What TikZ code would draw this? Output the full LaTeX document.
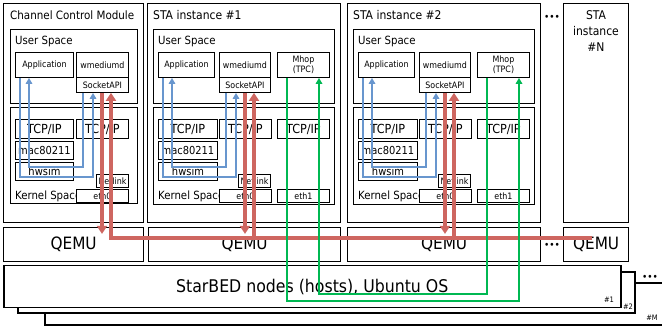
\documentclass[tikz,border=0pt]{standalone}
\usepackage{fontspec}
\setmainfont{DejaVu Sans Condensed}
\usetikzlibrary{arrows.meta, calc}
\definecolor{wirblue}{RGB}{104,150,206}
\definecolor{wirred}{RGB}{206,102,96}
\definecolor{wirgreen}{RGB}{0,184,82}
\tikzset{
  sz/.style 2 args={minimum width=#1, minimum height=#2},
  frame/.style={draw, fill=white, line width=1.3pt, anchor=north west, inner sep=0pt},
  space/.style={draw, fill=white, line width=0.9pt, anchor=north west, inner sep=0pt},
  box/.style={draw, fill=white, line width=0.9pt, anchor=north west, inner sep=0pt,
    font=\fontsize{8.8}{10}\selectfont, align=center},
  bigbox/.style={box, font=\fontsize{12.5}{14}\selectfont},
  midbox/.style={box, font=\fontsize{11}{12}\selectfont},
  qemubox/.style={box, line width=1.3pt, font=\fontsize{17}{19}\selectfont},
  title/.style={anchor=west, inner sep=0pt, font=\fontsize{12}{14}\selectfont},
  lbl/.style={anchor=west, inner sep=0pt, font=\fontsize{11.3}{13}\selectfont},
  tag/.style={inner sep=0pt, font=\fontsize{7.5}{8}\selectfont},
  dots/.style={inner sep=0pt, font=\fontsize{10}{10}\selectfont},
  blueline/.style={draw=wirblue, line width=1.8pt, >={Triangle[length=6pt, width=6.5pt]}},
  redline/.style={draw=wirred, line width=3.2pt, >={Triangle[length=8pt, width=10pt]}},
  greenline/.style={draw=wirgreen, line width=1.8pt, >={Triangle[length=6pt, width=6.5pt]}}
}
\begin{document}
\begin{tikzpicture}[x=1pt, y=-1pt]
  \useasboundingbox (0,0) rectangle (662,328);

  % hosts
  \draw[line width=1.5pt, fill=white] (45,283) rectangle (666,325);
  \draw[line width=1.5pt, fill=white] (18,272) rectangle (635,313);
  \node[frame, line width=1.5pt, sz={617}{42}, font=\fontsize{17.5}{19}\selectfont] (host) at (3,265) {StarBED nodes (hosts), Ubuntu OS};
  \node[tag] at (609,300) {\#1};
  \node[tag] at (628,307) {\#2};
  \node[tag] at (652,318) {\#M};
  \node[dots] at (650,278) {•••};

  % QEMU
  \node[qemubox, sz={140}{34}] (qemu0) at (3,227) {QEMU};
  \node[qemubox, sz={192}{34}] (qemu1) at (148,227) {QEMU};
  \node[qemubox, sz={193}{34}] (qemu2) at (347,227) {QEMU};
  \node[qemubox, sz={65}{34}] (qemuN) at (563,227) {QEMU};
  \node[dots] at (552,246) {•••};

  % channel control module
  \node[frame, sz={140}{219}] (ccm) at (3,3) {};
  \node[title, font=\fontsize{11.5}{14}\selectfont] at (10,15) {Channel Control Module};
  \node[space, sz={127}{74}] (us0) at (10,29) {};
  \node[lbl] at (15,41) {User Space};
  \node[box, sz={58}{25}] (app0) at (15,52) {Application};
  \node[box, sz={52}{25}] (wmd0) at (76,52) {wmediumd};
  \node[box, sz={52}{15}] (sock0) at (76,77) {SocketAPI};
  \node[space, sz={127}{96}] (ks0) at (10,107) {};
  \node[bigbox, sz={58}{19}] (tcpa0) at (15,119) {TCP/IP};
  \node[bigbox, sz={52}{19}] (tcpb0) at (76,119) {TCP/IP};
  \node[midbox, sz={58}{18}] (mac0) at (15,141) {mac80211};
  \node[midbox, sz={58}{18}] (hw0) at (15,162) {hwsim};
  \node[box, sz={32}{13}] (nl0) at (96,174) {Netlink};
  \node[lbl] at (15,196) {Kernel Space};
  \node[box, sz={52}{13}] (etha0) at (76,189) {eth0};

  % STA instances
  \foreach \i/\dx in {1/0,2/200} {
  \begin{scope}[xshift=\dx]
    \node[frame, sz={193}{219}] (sta\i) at (147,3) {};
    \node[title] at (153,15) {STA instance \#\i};
    \node[space, sz={181}{74}] (us\i) at (153,29) {};
    \node[lbl] at (158,41) {User Space};
    \node[box, sz={56}{25}] (app\i) at (158,52) {Application};
    \node[box, sz={51}{25}] (wmd\i) at (219,52) {wmediumd};
    \node[box, sz={51}{15}] (sock\i) at (219,77) {SocketAPI};
    \node[box, sz={52}{25}] (mhop\i) at (277,52) {Mhop\\(TPC)};
    \node[space, sz={181}{97}] (ks\i) at (153,107) {};
    \node[bigbox, sz={59}{19}] (tcpa\i) at (158,119) {TCP/IP};
    \node[bigbox, sz={52}{19}] (tcpb\i) at (219,119) {TCP/IP};
    \node[bigbox, sz={52}{19}] (tcpc\i) at (277,119) {TCP/IP};
    \node[midbox, sz={59}{18}] (mac\i) at (158,141) {mac80211};
    \node[midbox, sz={59}{18}] (hw\i) at (158,162) {hwsim};
    \node[box, sz={32}{13}] (nl\i) at (238,174) {Netlink};
    \node[lbl] at (158,196) {Kernel Space};
    \node[box, sz={52}{13}] (etha\i) at (219,189) {eth0};
    \node[box, sz={52}{13}] (ethb\i) at (277,189) {eth1};
  \end{scope}
  }
  \node[dots] at (552,18) {•••};
  \node[frame, sz={65}{219}] (staN) at (563,3) {};
  \node[inner sep=0pt, align=center, font=\fontsize{12}{16}\selectfont] at (596,31) {STA\\instance\\\#N};

  % wmediumd <-> application
  \foreach \i in {0,1,2} {
    \draw[blueline, ->] ($(app\i.south west)+(5,0)$) -- ++(0,99) -| ($(sock\i.south west)+(17,0)$);
    \draw[blueline, ->] ($(sock\i.south west)+(7,0)$) -- ++(0,74) -| ($(app\i.south west)+(14,0)$);
    \draw[redline, ->] ($(sock\i.south west)+(26,0)$) -- ++(0,141);
    \coordinate (rup\i) at ($(sock\i.south west)+(35,0)$);
  }

  % frames between QEMU instances
  \coordinate (busend) at (592,238);
  \draw[redline, ->] (busend) -| (rup0);
  \foreach \i in {1,2}
    \draw[redline, ->] (rup\i |- busend) -- (rup\i);

  % multihop traffic
  \draw[greenline, ->] ($(mhop1.south west)+(10,0)$) -- ++(0,223) -| ($(mhop2.south west)+(42,0)$);
  \draw[greenline, ->] ($(mhop2.south west)+(10,0)$) -- ++(0,216) -| ($(mhop1.south west)+(42,0)$);
\end{tikzpicture}
\end{document}
